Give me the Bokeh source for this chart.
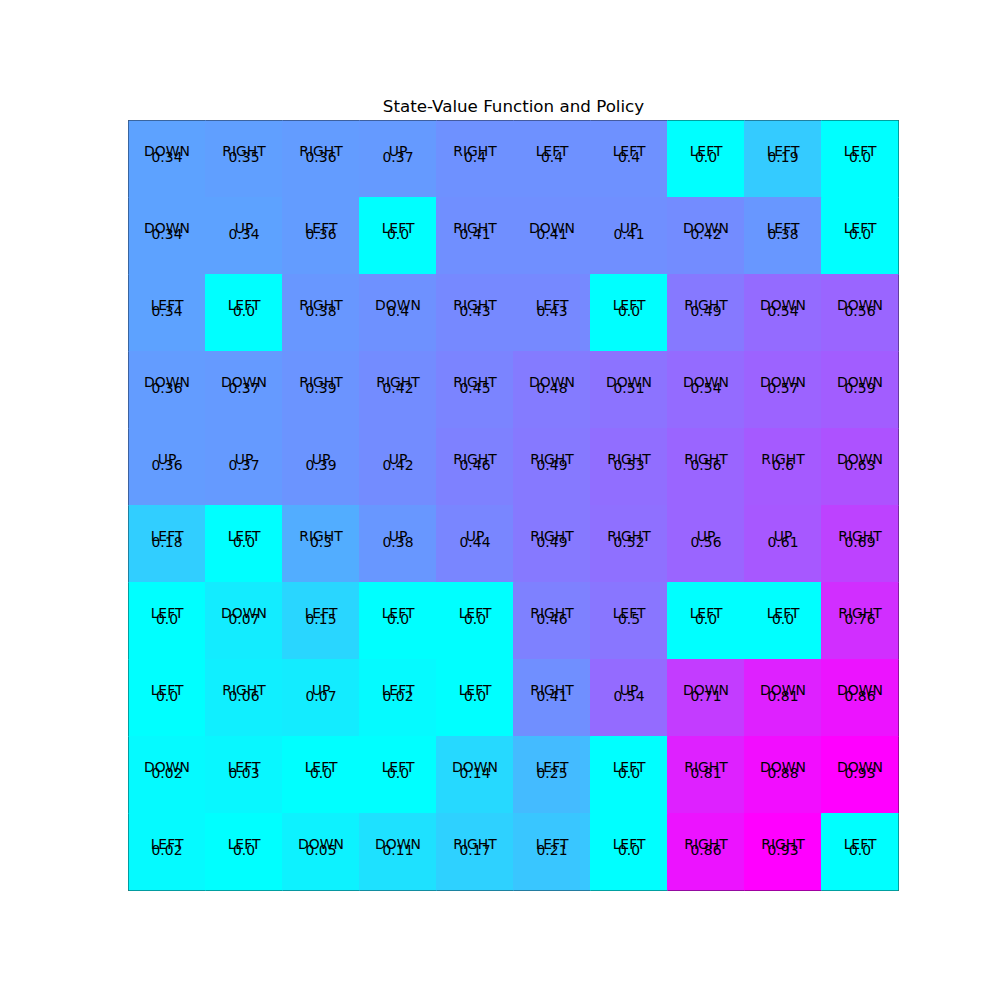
from bokeh.plotting import figure
from bokeh.models import ColumnDataSource, LinearColorMapper, Range1d
from bokeh.transform import transform
from bokeh.core.properties import value
from bokeh.embed import file_html
from bokeh.resources import INLINE

values = [
    [0.34, 0.35, 0.36, 0.37, 0.4, 0.4, 0.4, 0.0, 0.19, 0.0],
    [0.34, 0.34, 0.36, 0.0, 0.41, 0.41, 0.41, 0.42, 0.38, 0.0],
    [0.34, 0.0, 0.38, 0.4, 0.43, 0.43, 0.0, 0.49, 0.54, 0.56],
    [0.36, 0.37, 0.39, 0.42, 0.45, 0.48, 0.51, 0.54, 0.57, 0.59],
    [0.36, 0.37, 0.39, 0.42, 0.46, 0.49, 0.53, 0.56, 0.6, 0.63],
    [0.18, 0.0, 0.3, 0.38, 0.44, 0.49, 0.52, 0.56, 0.61, 0.69],
    [0.0, 0.07, 0.15, 0.0, 0.0, 0.46, 0.5, 0.0, 0.0, 0.76],
    [0.0, 0.06, 0.07, 0.02, 0.0, 0.41, 0.54, 0.71, 0.81, 0.86],
    [0.02, 0.03, 0.0, 0.0, 0.14, 0.25, 0.0, 0.81, 0.88, 0.93],
    [0.02, 0.0, 0.05, 0.11, 0.17, 0.21, 0.0, 0.86, 0.93, 0.0],
]
actions = [
    ["DOWN", "RIGHT", "RIGHT", "UP", "RIGHT", "LEFT", "LEFT", "LEFT", "LEFT", "LEFT"],
    ["DOWN", "UP", "LEFT", "LEFT", "RIGHT", "DOWN", "UP", "DOWN", "LEFT", "LEFT"],
    ["LEFT", "LEFT", "RIGHT", "DOWN", "RIGHT", "LEFT", "LEFT", "RIGHT", "DOWN", "DOWN"],
    ["DOWN", "DOWN", "RIGHT", "RIGHT", "RIGHT", "DOWN", "DOWN", "DOWN", "DOWN", "DOWN"],
    ["UP", "UP", "UP", "UP", "RIGHT", "RIGHT", "RIGHT", "RIGHT", "RIGHT", "DOWN"],
    ["LEFT", "LEFT", "RIGHT", "UP", "UP", "RIGHT", "RIGHT", "UP", "UP", "RIGHT"],
    ["LEFT", "DOWN", "LEFT", "LEFT", "LEFT", "RIGHT", "LEFT", "LEFT", "LEFT", "RIGHT"],
    ["LEFT", "RIGHT", "UP", "LEFT", "LEFT", "RIGHT", "UP", "DOWN", "DOWN", "DOWN"],
    ["DOWN", "LEFT", "LEFT", "LEFT", "DOWN", "LEFT", "LEFT", "RIGHT", "DOWN", "DOWN"],
    ["LEFT", "LEFT", "DOWN", "DOWN", "RIGHT", "LEFT", "LEFT", "RIGHT", "RIGHT", "LEFT"],
]

xs, ys, vs, acts, vlabels = [], [], [], [], []
for i, row in enumerate(values):
    for j, v in enumerate(row):
        xs.append(j)
        ys.append(i)
        vs.append(v)
        acts.append(actions[i][j])
        vlabels.append(str(v))

src = ColumnDataSource(dict(x=xs, y=ys, v=vs, act=acts, vl=vlabels))

# matplotlib "cool" colormap: cyan -> magenta
cool = ["#%02x%02x%02x" % (k, 255 - k, 255) for k in range(256)]
mapper = LinearColorMapper(palette=cool, low=min(vs), high=max(vs))

p = figure(
    width=992, height=992,
    frame_width=770, frame_height=770,
    x_range=Range1d(-0.5, 9.5), y_range=Range1d(9.5, -0.5),
    output_backend="svg", toolbar_location=None,
    title="State-Value Function and Policy",
    min_border_left=128, min_border_right=94, min_border_top=120, min_border_bottom=102,
)
p.title.align = "center"
p.title.text_font = "DejaVu Sans"
p.title.text_font_size = "16.7px"
p.title.text_font_style = "normal"
p.title.text_color = "black"

p.rect(x="x", y="y", width=1, height=1, source=src,
       fill_color=transform("v", mapper), line_color=transform("v", mapper),
       line_width=1)

p.text(x="x", y="y", text="act", source=src, text_align="center",
       text_baseline="alphabetic", y_offset=-8,
       text_font=value("DejaVu Sans"), text_font_size="13.9px", text_color="black")
p.text(x="x", y="y", text="vl", source=src, text_align="center",
       text_baseline="alphabetic", y_offset=-2.5,
       text_font=value("DejaVu Sans"), text_font_size="13.9px", text_color="black")

p.axis.visible = False
p.xgrid.visible = False
p.ygrid.visible = False
p.outline_line_color = "black"
p.outline_line_width = 1
p.background_fill_color = "white"
p.border_fill_color = "white"

open("out.html", "w").write(file_html(p, INLINE))
